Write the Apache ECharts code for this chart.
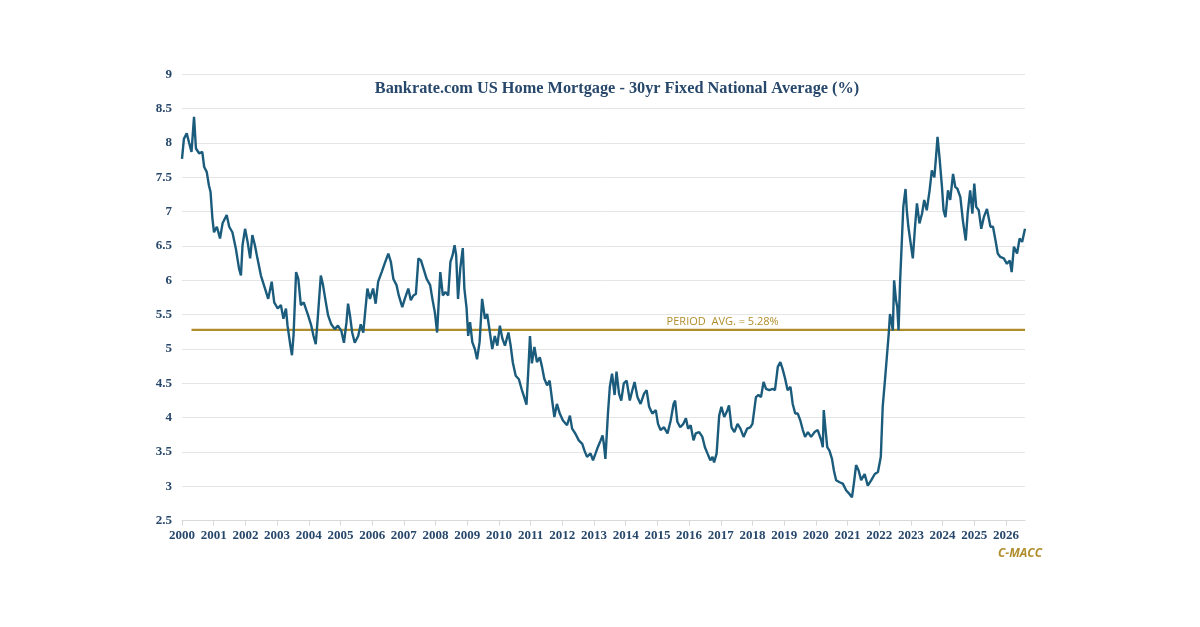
<!DOCTYPE html>
<html>
<head>
<meta charset="utf-8">
<title>Bankrate.com US Home Mortgage - 30yr Fixed National Average</title>
<script src="https://cdn.jsdelivr.net/npm/echarts@6/dist/echarts.min.js"></script>
<style>
  html, body { margin: 0; padding: 0; background: #ffffff; }
  #main { width: 1200px; height: 627px; }
</style>
</head>
<body>
<div id="main"></div>
<script>
// dates as decimal years
var dates = [
  2000.00, 2000.06, 2000.15, 2000.22, 2000.30, 2000.38, 2000.44, 2000.54, 2000.64, 2000.70,
  2000.78, 2000.85, 2000.90, 2000.96, 2001.01, 2001.10, 2001.20, 2001.28, 2001.41, 2001.49,
  2001.59, 2001.70, 2001.80, 2001.86, 2001.91, 2001.99, 2002.07, 2002.15, 2002.22, 2002.30,
  2002.38, 2002.49, 2002.62, 2002.72, 2002.83, 2002.91, 2003.02, 2003.12, 2003.20, 2003.28,
  2003.33, 2003.42, 2003.47, 2003.52, 2003.60, 2003.67, 2003.75, 2003.84, 2003.98, 2004.08,
  2004.15, 2004.22, 2004.29, 2004.38, 2004.45, 2004.52, 2004.61, 2004.71, 2004.82, 2004.92,
  2005.03, 2005.11, 2005.19, 2005.24, 2005.30, 2005.37, 2005.45, 2005.56, 2005.64, 2005.72,
  2005.77, 2005.85, 2005.93, 2006.03, 2006.11, 2006.19, 2006.30, 2006.40, 2006.51, 2006.59,
  2006.67, 2006.77, 2006.84, 2006.95, 2007.03, 2007.14, 2007.22, 2007.30, 2007.38, 2007.46,
  2007.54, 2007.62, 2007.72, 2007.83, 2007.90, 2007.98, 2008.05, 2008.10, 2008.15, 2008.23,
  2008.31, 2008.40, 2008.47, 2008.54, 2008.60, 2008.65, 2008.71, 2008.78, 2008.86, 2008.91,
  2008.98, 2009.03, 2009.09, 2009.16, 2009.24, 2009.31, 2009.39, 2009.47, 2009.56, 2009.63,
  2009.70, 2009.79, 2009.87, 2009.95, 2010.03, 2010.11, 2010.19, 2010.30, 2010.37, 2010.44,
  2010.53, 2010.63, 2010.72, 2010.79, 2010.87, 2010.93, 2010.98, 2011.04, 2011.12, 2011.20,
  2011.29, 2011.36, 2011.43, 2011.52, 2011.60, 2011.68, 2011.75, 2011.83, 2011.92, 2012.02,
  2012.15, 2012.24, 2012.31, 2012.41, 2012.52, 2012.63, 2012.70, 2012.78, 2012.89, 2012.97,
  2013.05, 2013.12, 2013.21, 2013.27, 2013.31, 2013.36, 2013.44, 2013.50, 2013.57, 2013.65,
  2013.71, 2013.79, 2013.86, 2013.94, 2014.03, 2014.13, 2014.21, 2014.28, 2014.37, 2014.47,
  2014.58, 2014.66, 2014.74, 2014.84, 2014.95, 2015.02, 2015.10, 2015.21, 2015.32, 2015.42,
  2015.51, 2015.56, 2015.63, 2015.72, 2015.82, 2015.90, 2015.97, 2016.05, 2016.14, 2016.21,
  2016.32, 2016.42, 2016.50, 2016.58, 2016.67, 2016.74, 2016.79, 2016.87, 2016.95, 2017.02,
  2017.11, 2017.21, 2017.26, 2017.34, 2017.43, 2017.53, 2017.62, 2017.72, 2017.83, 2017.93,
  2018.00, 2018.11, 2018.19, 2018.27, 2018.35, 2018.43, 2018.53, 2018.64, 2018.71, 2018.80,
  2018.88, 2018.95, 2019.03, 2019.11, 2019.20, 2019.27, 2019.35, 2019.43, 2019.51, 2019.59,
  2019.66, 2019.75, 2019.85, 2019.96, 2020.06, 2020.17, 2020.22, 2020.25, 2020.30, 2020.36,
  2020.43, 2020.51, 2020.57, 2020.64, 2020.75, 2020.85, 2020.96, 2021.06, 2021.14, 2021.20,
  2021.27, 2021.35, 2021.43, 2021.54, 2021.64, 2021.75, 2021.86, 2021.96, 2022.05, 2022.11,
  2022.18, 2022.24, 2022.30, 2022.34, 2022.38, 2022.43, 2022.47, 2022.53, 2022.57, 2022.61,
  2022.66, 2022.71, 2022.76, 2022.83, 2022.87, 2022.92, 2022.98, 2023.06, 2023.13, 2023.19,
  2023.27, 2023.35, 2023.42, 2023.50, 2023.59, 2023.66, 2023.74, 2023.80, 2023.84, 2023.90,
  2023.98, 2024.03, 2024.09, 2024.17, 2024.24, 2024.33, 2024.40, 2024.47, 2024.56, 2024.64,
  2024.73, 2024.79, 2024.87, 2024.94, 2025.00, 2025.06, 2025.14, 2025.22, 2025.30, 2025.40,
  2025.51, 2025.59, 2025.67, 2025.74, 2025.82, 2025.93, 2026.03, 2026.12, 2026.18, 2026.25,
  2026.35, 2026.43, 2026.51, 2026.55, 2026.60
];

// 30yr fixed national average (%)
var rates = [
  7.77, 8.06, 8.14, 8.01, 7.87, 8.38, 7.92, 7.85, 7.87, 7.65,
  7.58, 7.38, 7.29, 6.90, 6.70, 6.78, 6.61, 6.83, 6.95, 6.78,
  6.70, 6.46, 6.17, 6.07, 6.51, 6.75, 6.56, 6.32, 6.66, 6.51,
  6.32, 6.07, 5.88, 5.73, 5.98, 5.68, 5.59, 5.64, 5.44, 5.59,
  5.34, 5.05, 4.91, 5.20, 6.12, 6.02, 5.64, 5.68, 5.49, 5.34,
  5.19, 5.07, 5.49, 6.07, 5.93, 5.73, 5.49, 5.36, 5.29, 5.34,
  5.26, 5.09, 5.39, 5.66, 5.49, 5.24, 5.09, 5.19, 5.36, 5.24,
  5.49, 5.88, 5.73, 5.88, 5.66, 5.98, 6.12, 6.25, 6.39, 6.27,
  6.02, 5.93, 5.78, 5.61, 5.73, 5.88, 5.71, 5.78, 5.80, 6.32,
  6.29, 6.17, 6.02, 5.93, 5.73, 5.53, 5.24, 5.68, 6.12, 5.78,
  5.83, 5.78, 6.27, 6.37, 6.51, 6.37, 5.73, 6.17, 6.47, 5.88,
  5.59, 5.19, 5.39, 5.10, 5.00, 4.85, 5.10, 5.73, 5.44, 5.51,
  5.29, 5.00, 5.19, 5.05, 5.34, 5.15, 5.05, 5.24, 5.05, 4.80,
  4.61, 4.56, 4.41, 4.31, 4.19, 4.71, 5.19, 4.79, 5.03, 4.81,
  4.88, 4.74, 4.57, 4.47, 4.54, 4.25, 4.01, 4.20, 4.06, 3.96,
  3.89, 4.03, 3.84, 3.77, 3.67, 3.62, 3.52, 3.43, 3.48, 3.38,
  3.48, 3.57, 3.67, 3.74, 3.62, 3.40, 4.06, 4.45, 4.64, 4.33,
  4.67, 4.35, 4.25, 4.50, 4.54, 4.25, 4.40, 4.52, 4.30, 4.20,
  4.35, 4.40, 4.16, 4.06, 4.11, 3.91, 3.82, 3.86, 3.77, 3.96,
  4.20, 4.25, 3.94, 3.86, 3.91, 3.99, 3.84, 3.89, 3.67, 3.77,
  3.79, 3.72, 3.57, 3.48, 3.38, 3.43, 3.35, 3.48, 4.03, 4.16,
  4.01, 4.11, 4.18, 3.86, 3.79, 3.91, 3.84, 3.72, 3.84, 3.86,
  3.91, 4.30, 4.33, 4.30, 4.52, 4.42, 4.40, 4.42, 4.40, 4.74,
  4.81, 4.71, 4.57, 4.40, 4.45, 4.20, 4.06, 4.06, 3.96, 3.82,
  3.72, 3.79, 3.72, 3.79, 3.82, 3.67, 3.57, 4.11, 3.86, 3.57,
  3.52, 3.40, 3.23, 3.09, 3.06, 3.04, 2.94, 2.89, 2.84, 3.04,
  3.31, 3.23, 3.09, 3.18, 3.01, 3.09, 3.18, 3.21, 3.43, 4.16,
  4.54, 4.88, 5.22, 5.51, 5.42, 5.27, 6.00, 5.71, 5.61, 5.27,
  6.00, 6.53, 7.07, 7.33, 7.02, 6.78, 6.58, 6.32, 6.78, 7.12,
  6.83, 6.97, 7.17, 7.02, 7.31, 7.60, 7.50, 7.84, 8.09, 7.80,
  7.36, 7.02, 6.92, 7.31, 7.17, 7.55, 7.36, 7.33, 7.21, 6.87,
  6.58, 6.97, 7.31, 6.97, 7.41, 7.07, 7.02, 6.75, 6.92, 7.04,
  6.78, 6.78, 6.58, 6.39, 6.34, 6.32, 6.24, 6.29, 6.12, 6.49,
  6.39, 6.61, 6.56, 6.58, 6.75
];

// period average reference line
var avgValue = 5.28;
var avgStart = 2000.30;
var avgLabelAt = 2017.06;

var yearMin = 2000;
var yearMax = 2026.60;

var inkBlue = '#27476b';
var lineBlue = '#1b5c7d';
var gold = '#b08d2b';

function buildChart(){
    var rateData = [];
    for (var i = 0; i < dates.length; i++) {
        rateData.push([dates[i], rates[i]]);
    }

    var myChart = echarts.init(document.getElementById('main'), null, {renderer: 'canvas'});

    var option = {
        animation: false,
        backgroundColor: '#ffffff',
        title: {
            text: 'Bankrate.com US Home Mortgage - 30yr Fixed National Average (%)',
            left: 612,
            top: 76,
            textAlign: 'center',
            textStyle: {
                fontFamily: '"Liberation Serif", "Times New Roman", serif',
                fontWeight: 'bold',
                fontSize: 16.3,
                color: inkBlue
            }
        },
        grid: {
            left: 182,
            right: 175,
            top: 74.3,
            bottom: 106.3,
            containLabel: false
        },
        xAxis: {
            type: 'value',
            min: yearMin,
            max: yearMax,
            interval: 1,
            axisLine: { show: true, lineStyle: { color: '#d9d9d9', width: 1 } },
            axisTick: { show: true, length: 5, lineStyle: { color: '#d9d9d9' } },
            splitLine: { show: false },
            axisLabel: {
                showMaxLabel: false,
                margin: 8,
                color: inkBlue,
                fontFamily: '"Liberation Serif", "Times New Roman", serif',
                fontWeight: 'bold',
                fontSize: 13,
                formatter: function(v){ return String(Math.round(v)); }
            }
        },
        yAxis: {
            type: 'value',
            min: 2.5,
            max: 9,
            interval: 0.5,
            axisLine: { show: false },
            axisTick: { show: false },
            splitLine: { show: true, lineStyle: { color: '#e5e5e5', width: 1 } },
            axisLabel: {
                margin: 10,
                color: inkBlue,
                fontFamily: '"Liberation Serif", "Times New Roman", serif',
                fontWeight: 'bold',
                fontSize: 13
            }
        },
        graphic: [{
            type: 'text',
            right: 158,
            top: 548,
            style: {
                text: 'C-MACC',
                fill: gold,
                font: 'italic bold 12px "Open Sans", "Liberation Sans", sans-serif'
            }
        }],
        series: [{
            name: 'Period Avg.',
            type: 'line',
            data: [[avgStart, avgValue], [yearMax, avgValue]],
            symbol: 'none',
            silent: true,
            z: 1,
            lineStyle: { color: gold, width: 2.2 },
            markPoint: {
                symbol: 'circle',
                symbolSize: 0,
                silent: true,
                data: [{ coord: [avgLabelAt, avgValue] }],
                label: {
                    show: true,
                    position: 'top',
                    distance: 2,
                    formatter: 'PERIOD  AVG. = 5.28%',
                    color: gold,
                    fontFamily: '"Open Sans", "Liberation Sans", sans-serif',
                    fontSize: 11
                }
            }
        }, {
            name: '30yr Fixed',
            type: 'line',
            data: rateData,
            symbol: 'none',
            z: 2,
            lineStyle: { color: lineBlue, width: 2.4 }
        }]
    };

    myChart.setOption(option);
}

buildChart();
</script>
</body>
</html>
